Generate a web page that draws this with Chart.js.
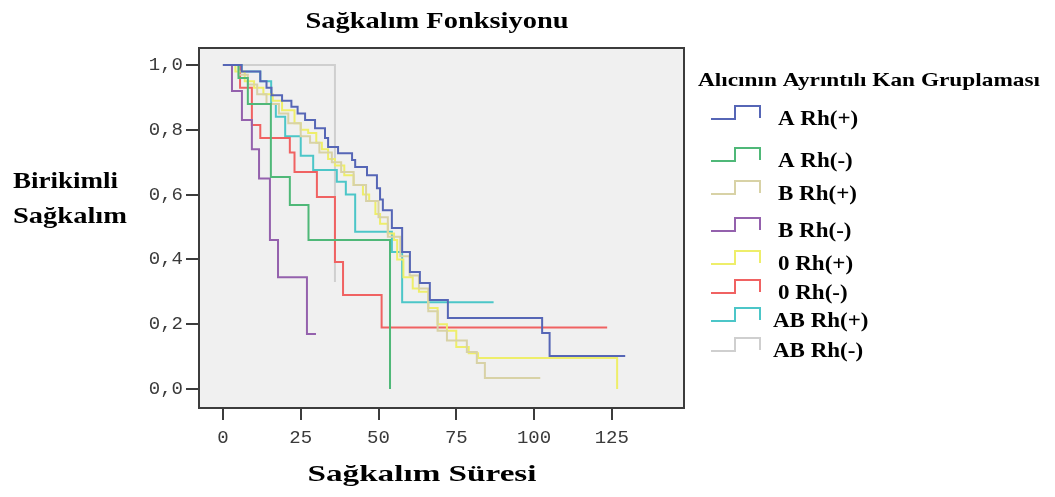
<!DOCTYPE html>
<html lang="tr">
<head>
<meta charset="utf-8">
<title>Sağkalım Fonksiyonu</title>
<script src="https://cdn.jsdelivr.net/npm/chart.js@4"></script>
<style>
  html, body { margin: 0; padding: 0; background: #ffffff; }
  #wrap { width: 1055px; height: 497px; }
</style>
</head>
<body>
<div id="wrap"><canvas id="survChart" width="1055" height="497"></canvas></div>
<script>
// Eksen işaretleri
const timeTicks = [0, 25, 50, 75, 100, 125];
const survTicks = [0, 0.2, 0.4, 0.6, 0.8, 1.0];

// Gruplar
const groups = ["A Rh(+)", "A Rh(-)", "B Rh(+)", "B Rh(-)", "0 Rh(+)", "0 Rh(-)", "AB Rh(+)", "AB Rh(-)"];

// Kaplan-Meier basamakları (zaman, o andan sonraki sağkalım)
const aPosTime = [0, 6, 12, 14, 15.6, 19, 22, 24, 26.4, 29.6, 32.8, 33.8, 37, 41.5, 42.5, 46.3, 49.5, 50.5, 51.4, 54.3, 57.6, 60.1, 63.3, 66.5, 72.3, 102.6, 105, 129.3];
const aPosSurv = [1.0, 0.98, 0.95, 0.93, 0.907, 0.89, 0.871, 0.85, 0.83, 0.805, 0.775, 0.747, 0.728, 0.707, 0.685, 0.66, 0.62, 0.585, 0.552, 0.497, 0.423, 0.361, 0.327, 0.275, 0.219, 0.173, 0.102, 0.102];

const aNegTime = [0, 5, 8, 15.4, 21.5, 27.5, 53.7];
const aNegSurv = [1.0, 0.96, 0.88, 0.654, 0.568, 0.46, 0.0];

const bPosTime = [0, 5, 8, 11, 14, 18, 21, 25, 28, 31, 35, 38, 42, 46, 50, 53, 57, 60, 63, 66, 69, 72, 78.4, 81.6, 84.2, 102];
const bPosSurv = [1.0, 0.97, 0.94, 0.91, 0.88, 0.85, 0.82, 0.78, 0.76, 0.73, 0.70, 0.67, 0.63, 0.58, 0.53, 0.47, 0.41, 0.35, 0.31, 0.24, 0.18, 0.15, 0.114, 0.08, 0.034, 0.034];

const bNegTime = [0, 2.9, 6.1, 9.3, 11.6, 15.1, 17.7, 27, 29.9];
const bNegSurv = [1.0, 0.92, 0.83, 0.74, 0.65, 0.46, 0.345, 0.17, 0.17];

const oPosTime = [0, 4, 7, 10, 13, 16, 19, 23, 25, 27.4, 30, 31.8, 33.8, 36, 39, 42, 45, 47, 49, 50.5, 53, 55, 56, 58, 61, 63, 66, 69, 72, 75, 79, 82, 126.7];
const oPosSurv = [1.0, 0.98, 0.95, 0.93, 0.91, 0.89, 0.86, 0.82, 0.80, 0.79, 0.76, 0.74, 0.71, 0.69, 0.66, 0.63, 0.60, 0.58, 0.54, 0.51, 0.48, 0.46, 0.40, 0.345, 0.31, 0.30, 0.25, 0.20, 0.18, 0.13, 0.11, 0.096, 0.0];

const oNegTime = [0, 5.5, 9.3, 12, 21.5, 23, 30.2, 36, 38.6, 51, 123.5];
const oNegSurv = [1.0, 0.93, 0.815, 0.775, 0.73, 0.67, 0.593, 0.392, 0.29, 0.19, 0.19];

const abPosTime = [0, 6, 12, 15.5, 17, 20, 25, 29, 36.6, 39.5, 42.5, 54.3, 57.6, 87];
const abPosSurv = [1.0, 0.98, 0.95, 0.88, 0.84, 0.78, 0.72, 0.676, 0.64, 0.60, 0.485, 0.423, 0.268, 0.268];

const abNegTime = [0, 36];
const abNegSurv = [1.0, 0.33];

const seriesTimes = [aPosTime, aNegTime, bPosTime, bNegTime, oPosTime, oNegTime, abPosTime, abNegTime];
const seriesSurv = [aPosSurv, aNegSurv, bPosSurv, bNegSurv, oPosSurv, oNegSurv, abPosSurv, abNegSurv];
const colors = ["#5666b6", "#4fb878", "#d8d2a6", "#9461ad", "#eeee6a", "#f06262", "#4cc6c8", "#cfcfcf"];

// Lejant satırlarının dikey konumları
const legendRowsY = [125, 167, 200, 237, 270, 299, 327, 357];

const serif = '"Liberation Serif", "Times New Roman", serif';

// Metni yatayda hedef genişliğe uzatarak yaz
function stretchText(ctx, text, x, y, size, width, align) {
  ctx.save();
  ctx.font = `bold ${size}px ${serif}`;
  ctx.fillStyle = "#000";
  ctx.textBaseline = "alphabetic";
  ctx.textAlign = "left";
  const w = ctx.measureText(text).width;
  const sx = width ? width / w : 1.15;
  const realW = w * sx;
  let left = x;
  if (align === "center") left = x - realW / 2;
  ctx.translate(left, y);
  ctx.scale(sx, 1);
  ctx.fillText(text, 0, 0);
  ctx.restore();
}

const plotBackground = {
  id: "plotBackground",
  beforeDraw(chart) {
    const { ctx, chartArea: a } = chart;
    ctx.save();
    ctx.fillStyle = "#f0f0f0";
    ctx.fillRect(a.left, a.top, a.right - a.left, a.bottom - a.top);
    ctx.restore();
  },
  afterDatasetsDraw(chart) {
    const { ctx, chartArea: a } = chart;
    ctx.save();
    ctx.strokeStyle = "#3c3c3c";
    ctx.lineWidth = 2;
    ctx.strokeRect(a.left, a.top, a.right - a.left, a.bottom - a.top);
    ctx.restore();
  },
};

const textsAndLegend = {
  id: "textsAndLegend",
  afterDraw(chart) {
    const ctx = chart.ctx;
    stretchText(ctx, "Sağkalım Fonksiyonu", 437, 28, 24, 263, "center");
    stretchText(ctx, "Birikimli", 13, 188, 24, 105);
    stretchText(ctx, "Sağkalım", 13, 223, 24, 114);
    stretchText(ctx, "Sağkalım Süresi", 422, 481, 24, 229, "center");
    stretchText(ctx, "Alıcının Ayrıntılı Kan Gruplaması", 698, 86, 19, 342);

    groups.forEach((g, i) => {
      const yb = legendRowsY[i];
      const low = yb - 6;
      const high = low - 13;
      ctx.save();
      ctx.strokeStyle = colors[i];
      ctx.lineWidth = 2;
      ctx.beginPath();
      ctx.moveTo(711, low);
      ctx.lineTo(735, low);
      ctx.lineTo(735, high);
      ctx.lineTo(760, high);
      ctx.lineTo(760, low - 1);
      ctx.stroke();
      ctx.restore();
      stretchText(ctx, g, g.startsWith("AB") ? 773 : 778, yb, 20);
    });
  },
};

const datasets = groups.map((g, i) => ({
  label: g,
  data: seriesTimes[i].map((t, k) => ({ x: t, y: seriesSurv[i][k] })),
  borderColor: colors[i],
  borderWidth: 2,
  stepped: true,
  pointRadius: 0,
  fill: false,
}));

const survChart = new Chart(document.getElementById("survChart"), {
  type: "line",
  data: { datasets },
  options: {
    responsive: false,
    devicePixelRatio: 1,
    animation: false,
    layout: { padding: { left: 0, top: 48, right: 371, bottom: 0 } },
    plugins: {
      legend: { display: false },
      title: { display: false },
      tooltip: { enabled: false },
    },
    scales: {
      x: {
        type: "linear",
        min: -7.7,
        max: 148.2,
        afterBuildTicks: (s) => { s.ticks = timeTicks.map((v) => ({ value: v })); },
        afterFit: (s) => { s.height = 89; },
        grid: { drawOnChartArea: false, tickLength: 12, color: "#3c3c3c", lineWidth: 2 },
        border: { color: "#3c3c3c", width: 2 },
        ticks: {
          padding: 7,
          maxRotation: 0,
          color: "#3a3a3a",
          font: { family: '"Liberation Mono", monospace', size: 19 },
          callback: (v) => String(v),
        },
      },
      y: {
        type: "linear",
        min: -0.0586,
        max: 1.0525,
        afterBuildTicks: (s) => { s.ticks = survTicks.map((v) => ({ value: v })); },
        afterFit: (s) => { s.width = 199; },
        grid: { drawOnChartArea: false, tickLength: 13, color: "#3c3c3c", lineWidth: 2 },
        border: { color: "#3c3c3c", width: 2 },
        ticks: {
          padding: 3,
          color: "#3a3a3a",
          font: { family: '"Liberation Mono", monospace', size: 19 },
          callback: (v) => v.toFixed(1).replace(".", ","),
        },
      },
    },
  },
  plugins: [plotBackground, textsAndLegend],
});
</script>
</body>
</html>
